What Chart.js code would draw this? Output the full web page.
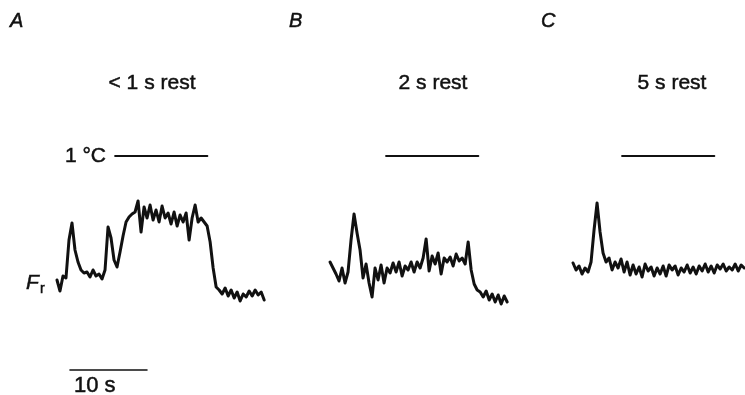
<!DOCTYPE html>
<html>
<head>
<meta charset="utf-8">
<script src="https://cdn.jsdelivr.net/npm/chart.js@4"></script>
<style>
  html, body { margin: 0; padding: 0; background: #fff; }
  #wrap { width: 745px; height: 395px; }
</style>
</head>
<body>
<div id="wrap"><canvas id="fig" width="745" height="395"></canvas></div>
<script>
/* Fr traces during 1 °C heating, after different rest intervals */

const panels = ['A', 'B', 'C'];
const restLabels = ['< 1 s rest', '2 s rest', '5 s rest'];
const dt = 0.39;         // s between samples
const heatDur = 12;      // s, length of the 1 °C step

// Fr deflection from each trace's own baseline (arbitrary units)
const frA = [-3, -14, 1, -1, 37, 54, 27, 15, 7, 4, 5, 0, 7, 1, 3, -2, 7, 50, 39, 17,
    10, 25, 41, 55, 60, 63, 65, 76, 45, 70, 59, 72, 57, 67, 55, 71, 59, 64, 53, 65,
    51, 62, 55, 64, 37, 59, 72, 55, 59, 55, 51, 35, 9, -10, -13, -17, -11, -19, -13, -21,
    -15, -24, -17, -20, -14, -19, -13, -18, -15, -23];
const frB = [8, 2, -4, -11, 2, -13, -2, 30, 56, 37, 20, -8, 6, -13, -27, 2, -10, 5, -13, 2,
    -3, 7, -2, 8, -6, 4, 0, 8, -2, 8, 2, 12, 31, -1, 14, 6, 17, -4, 12, 8,
    13, 4, 16, 9, 12, 6, 28, 0, -14, -20, -22, -27, -21, -30, -24, -32, -25, -34, -26, -32];
const frC = [5, -2, 2, -6, 0, -4, 6, 38, 65, 36, 15, 6, 10, -2, 6, 0, 9, -4, 6, -7,
    3, -6, 1, -9, 4, -3, 1, -8, 0, -6, 2, -8, 3, -2, 2, -7, 0, -4, 3, -5,
    1, -6, 2, -3, 4, -4, 2, -5, 3, -1, 4, -3, 1, -2, 4, -3, 3, 0];

/* ── layout (figure units: x in s, y in Fr units) ───────────── */

const pxPerSec = 7.7;
const xMax = 745 / pxPerSec;
const traceStart = [7.4, 42.86, 74.42];
const traceBase = [118, 125, 127];
const heatStart = [14.94, 50.13, 80.78];
const heatLevel = 239;
const barStart = 9.09, barLevel = 25;

function traceData(vals, t0, base) {
    return vals.map((v, i) => ({ x: t0 + i * dt, y: base + v }));
}

const ink = '#111';
const datasets = [];
[frA, frB, frC].forEach((vals, k) => {
    datasets.push({
        data: traceData(vals, traceStart[k], traceBase[k]),
        borderColor: ink, borderWidth: 3, pointRadius: 0, tension: 0, fill: false
    });
    datasets.push({
        data: [{ x: heatStart[k], y: heatLevel }, { x: heatStart[k] + heatDur, y: heatLevel }],
        borderColor: ink, borderWidth: 1.8, pointRadius: 0
    });
});
datasets.push({
    data: [{ x: barStart, y: barLevel }, { x: barStart + 10, y: barLevel }],
    borderColor: ink, borderWidth: 1.6, pointRadius: 0
});

/* ── text labels drawn on the canvas ────────────────────────── */

function label(ctx, text, x, y) {
    ctx.fillText(text, x, y);
    ctx.strokeText(text, x, y);
}

const labelsPlugin = {
    id: 'figLabels',
    afterDraw(chart) {
        const ctx = chart.ctx;
        const xs = chart.scales.x, ys = chart.scales.y;
        ctx.save();
        ctx.fillStyle = ink;
        ctx.strokeStyle = ink;
        ctx.lineWidth = 0.5;
        ctx.textBaseline = 'middle';

        ctx.font = 'italic 20px "Liberation Sans", Arial, sans-serif';
        ctx.textAlign = 'left';
        [10, 289, 541].forEach((x, k) => label(ctx, panels[k], x, 21));

        ctx.font = '21px "Liberation Sans", Arial, sans-serif';
        ctx.textAlign = 'center';
        [152, 433, 672].forEach((cx, k) => label(ctx, restLabels[k], cx, 83));

        ctx.textAlign = 'right';
        label(ctx, '1 °C', xs.getPixelForValue(heatStart[0]) - 9, ys.getPixelForValue(heatLevel));

        ctx.textAlign = 'left';
        ctx.font = '22px "Liberation Sans", Arial, sans-serif';
        label(ctx, '10 s', 74, ys.getPixelForValue(barLevel) + 16);

        ctx.font = 'italic 21px "Liberation Sans", Arial, sans-serif';
        label(ctx, 'F', 26, 283);
        ctx.font = '14px "Liberation Sans", Arial, sans-serif';
        label(ctx, 'r', 40, 289);
        ctx.restore();
    }
};

new Chart(document.getElementById('fig'), {
    type: 'line',
    data: { datasets },
    options: {
        responsive: false,
        animation: false,
        layout: { padding: 0 },
        plugins: { legend: { display: false }, tooltip: { enabled: false } },
        scales: {
            x: { type: 'linear', min: 0, max: xMax, display: false },
            y: { type: 'linear', min: 0, max: 395, display: false }
        },
        elements: { line: { borderJoinStyle: 'round', borderCapStyle: 'round' } }
    },
    plugins: [labelsPlugin]
});
</script>
</body>
</html>
